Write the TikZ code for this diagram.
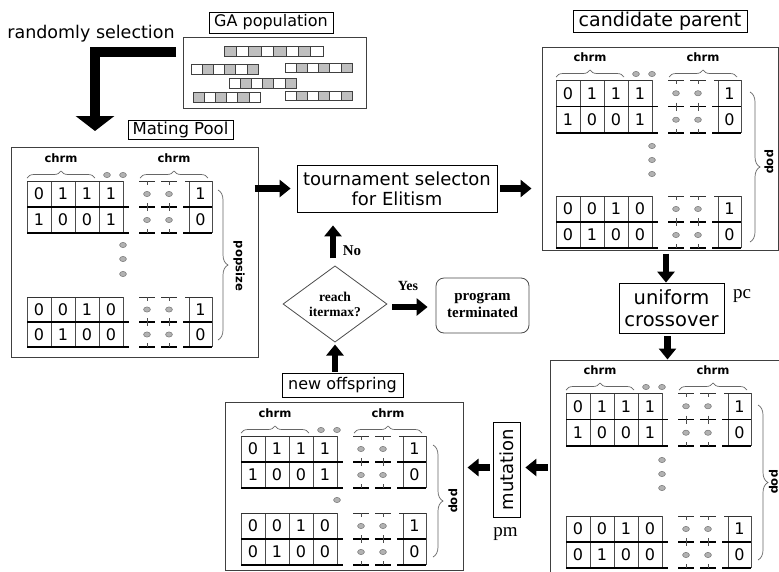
\documentclass[tikz,border=0pt]{standalone}
\usepackage{fontspec}
\setmainfont{Liberation Serif}
\newfontfamily\dvs{DejaVu Sans}
\usetikzlibrary{arrows.meta,decorations.pathreplacing,shapes.geometric,calc}
\newcommand\fs[2]{\fontsize{#1}{#2}\selectfont}
\colorlet{sg}{black!25}
\tikzset{
 lbox/.style={draw=black, line width=0.8pt, inner sep=0pt, align=center},
 bigbox/.style={draw=black!75, line width=1pt, inner sep=0pt},
 dig/.style={font=\dvs\fs{16}{16}, inner sep=0pt},
 chrm/.style={font=\dvs\bfseries\fs{11.6}{12}, inner sep=0pt},
 poplab/.style={font=\dvs\bfseries\fs{11.6}{12}, inner sep=0pt, rotate=-90},
 vl/.style={draw=black!70, line width=0.8pt},
 hl/.style={draw=black!80, line width=1pt},
 hk/.style={draw=black, line width=1.6pt},
 brc/.style={draw=black!60, line width=0.7pt, decorate, decoration={brace, amplitude=7pt}},
 bigbrc/.style={draw=black!60, line width=0.7pt, decorate, decoration={brace, amplitude=10pt}},
 dotc/.style={fill=black!30, draw=black!55, line width=0.5pt},
 bar/.style={line width=6.5pt, -{Triangle[width=17pt,length=11pt]}},
 sq/.style={draw=black!75, line width=0.9pt},
}
% one chromosome strip of the GA population
\newcommand\gstrip[4]{%
 \foreach \c [count=\k] in {#4} \draw[sq, fill=\c] ({#1+(\k-1)*#3},#2) rectangle ++(#3,9.5);}
% header: chrm labels, braces, dots
\newcommand\ghead[3]{%
\begin{scope}[shift={(#2,#3)}]
 \node[chrm] (#1c1) at (34,-23) {chrm};
 \node[chrm] (#1c2) at (147,-23) {chrm};
 \draw[brc] (0,-3) -- (68,-3);
 \draw[brc] (113,-3) -- (181,-3);
 \draw[dotc] (80,-6) ellipse [x radius=3.4, y radius=2.6];
 \draw[dotc] (96,-6) ellipse [x radius=3.4, y radius=2.6];
\end{scope}}
% two rows of genes
\newcommand\gpair[8]{%
\begin{scope}[shift={(#2,#3)}]
 \foreach \x in {0,24,48,72,96,162,185} \draw[vl] (\x,0) -- (\x,2*#4);
 \draw[hl] (0,0) -- (96,0) (158,0) -- (185,0);
 \draw[hk] (0,#4) -- (102,#4) (156,#4) -- (185,#4) (0,2*#4) -- (102,2*#4) (156,2*#4) -- (185,2*#4);
 \foreach \c in {120,142} {
   \draw[hl] (\c-8,0) -- (\c+8,0);
   \draw[hk] (\c-8,#4) -- (\c+8,#4) (\c-8,2*#4) -- (\c+8,2*#4);
   \draw[vl] (\c,0) -- (\c,4) (\c,#4-4) -- (\c,#4+4) (\c,2*#4-4) -- (\c,2*#4);
   \draw[dotc] (\c,#4/2) ellipse [x radius=3.4, y radius=2.6];
   \draw[dotc] (\c,1.5*#4) ellipse [x radius=3.4, y radius=2.6];
 }
 \foreach \d [count=\i] in {#5} \node[dig] (#1a\i) at (\i*24-12,#4/2) {\d};
 \node[dig] (#1a5) at (173.5,#4/2) {#6};
 \foreach \d [count=\i] in {#7} \node[dig] (#1b\i) at (\i*24-12,1.5*#4) {\d};
 \node[dig] (#1b5) at (173.5,1.5*#4) {#8};
\end{scope}}
\newcommand\vdot[2]{\draw[dotc] (#1,#2) ellipse [x radius=3.4, y radius=2.6];}

\begin{document}
\begin{tikzpicture}[x=1pt,y=-1pt]
\useasboundingbox (0,0) rectangle (779,571);
\fill[white] (0,0) rectangle (779,571);
\begin{scope}
\clip (0,0) rectangle (779,571);

% ---------- GA population ----------
\node[font=\dvs\fs{17.5}{18}, inner sep=0pt] (rs) at (91,34) {randomly selection};
\node[lbox, font=\dvs\fs{16}{16}, minimum width=124pt, minimum height=21pt] (gal) at (271,22.5) {GA population};
\node[bigbox, minimum width=183pt, minimum height=71pt] (gap) at (274.5,72.5) {};
\gstrip{224}{46.5}{12.4}{sg,white,sg,white,sg,white,sg,white}
\gstrip{191}{64.5}{11.2}{white,sg,white,sg,white,sg}
\gstrip{285}{63}{11.2}{white,sg,white,sg,white,sg}
\gstrip{229}{78.5}{11.2}{white,sg,white,sg,white,sg}
\gstrip{193}{92.5}{11.2}{sg,white,sg,white,sg,white}
\gstrip{285}{91}{11.2}{white,sg,white,sg,white,sg}
\coordinate (ls) at (176,52);
\coordinate (le) at (95,131);
\draw[line width=10pt, miter limit=10, -{Triangle[width=38pt,length=15pt]}] (ls) -| (le);

% ---------- Mating pool ----------
\node[lbox, font=\dvs\fs{16.5}{17}, minimum width=105pt, minimum height=19pt] (mpl) at (180.5,129.5) {Mating Pool};
\node[bigbox, minimum width=247pt, minimum height=210pt] (mp) at (134.5,252) {};
\ghead{A}{27}{181}
\gpair{Ap}{27}{181}{26}{0,1,1,1}{1}{1,0,0,1}{0}
\gpair{Aq}{27}{297}{25}{0,0,1,0}{1}{0,1,0,0}{0}
\vdot{123}{245}\vdot{123}{259}\vdot{123}{274}
\draw[bigbrc] (218,190) -- (218,340);
\node[poplab] (Apop) at (239,266) {popsize};

% ---------- tournament ----------
\node[lbox, font=\dvs\fs{18}{20}, minimum width=200pt, minimum height=47pt] (ts) at (397,188.5) {tournament selecton\\for Elitism};

% ---------- candidate parent ----------
\node[lbox, font=\dvs\fs{19}{19}, minimum width=174pt, minimum height=22pt] (cpl) at (660,21) {candidate parent};
\node[bigbox, minimum width=236pt, minimum height=203pt] (cp) at (660,148.5) {};
\ghead{B}{556}{80}
\gpair{Bp}{556}{80}{26.5}{0,1,1,1}{1}{1,0,0,1}{0}
\gpair{Bq}{556}{196}{26}{0,0,1,0}{1}{0,1,0,0}{0}
\vdot{652}{146}\vdot{652}{160}\vdot{652}{174}
\draw[bigbrc] (750,92) -- (750,242);
\node[poplab] (Bpop) at (769,162) {pop};

% ---------- uniform crossover ----------
\node[lbox, font=\dvs\fs{19.5}{22}, minimum width=105pt, minimum height=50pt] (uc) at (671.5,308) {uniform\\crossover};
\node[font=\fs{19}{19}, inner sep=0pt] (pc) at (742,296) {pc};
\node[bigbox, minimum width=247pt, minimum height=212pt] (cr) at (673.5,466) {};
\ghead{C}{566}{393}
\gpair{Cp}{566}{393}{26.5}{0,1,1,1}{1}{1,0,0,1}{0}
\gpair{Cq}{566}{516}{26}{0,0,1,0}{1}{0,1,0,0}{0}
\vdot{662}{460}\vdot{662}{474}\vdot{662}{488}
\draw[bigbrc] (758,405) -- (758,560);
\node[poplab] (Cpop) at (773.5,482) {pop};

% ---------- mutation / new offspring ----------
\node[lbox, font=\dvs\fs{18}{18}, minimum width=95pt, minimum height=27pt, rotate=90] (mu) at (506.5,469.5) {mutation};
\node[font=\fs{19}{19}, inner sep=0pt] (pm) at (505.5,534) {pm};
\node[lbox, font=\dvs\fs{16}{16}, minimum width=121pt, minimum height=24pt] (nol) at (342.5,385) {new offspring};
\node[bigbox, minimum width=238pt, minimum height=168pt] (no) at (344,486) {};
\ghead{D}{241}{436}
\gpair{Dp}{241}{436}{26}{0,1,1,1}{1}{1,0,0,1}{0}
\gpair{Dq}{241}{513}{26}{0,0,1,0}{1}{0,1,0,0}{0}
\vdot{337}{500}
\draw[bigbrc] (433,445) -- (433,557);
\node[poplab] (Dpop) at (453,501) {pop};

% ---------- decision ----------
\node[diamond, draw=black!70, line width=0.8pt, minimum width=104pt, minimum height=68pt, inner sep=0pt, align=center, font=\bfseries\fs{13.5}{15}] (dm) at (335,304) {reach\\itermax?};
\node[draw=black!70, line width=0.8pt, rounded corners=8pt, minimum width=93pt, minimum height=55pt, inner sep=0pt, align=center, font=\bfseries\fs{15}{17}] (pt) at (482.5,305.5) {program\\terminated};
\node[font=\bfseries\fs{15}{15}, inner sep=0pt] (nolab) at (352,251) {No};
\node[font=\bfseries\fs{14}{14}, inner sep=0pt] (yeslab) at (408,286) {Yes};

% ---------- connectors ----------
\draw[bar] ($(mp.east |- ts.west)+(-4,0)$) -- ($(ts.west)+(-6,0)$);
\draw[bar] ($(ts.east)+(3,0)$) -- ($(cp.west |- ts.east)+(-10,0)$);
\draw[bar] ($(cp.south)+(6,3)$) coordinate (t1) -- (t1 |- uc.north);
\draw[bar] ($(uc.south)+(-4,3)$) coordinate (t2) -- (t2 |- cr.north);
\draw[bar] ($(cr.west |- mu.center)+(-2,-2)$) coordinate (t3) -- ($(mu.south |- t3)+(5,0)$);
\draw[bar] ($(mu.north |- t3)+(-3,0)$) -- ($(no.east |- t3)+(4,0)$);
\draw[bar] ($(dm.south |- nol.north)+(0,-1)$) -- ($(dm.south)+(0,2)$);
\draw[bar] ($(dm.north)+(-2,-7)$) -- ($(dm.north |- ts.south)+(-2,13)$);
\draw[bar] ($(dm.east)+(5,3)$) -- ($(pt.west |- dm.east)+(-8,3)$);
\end{scope}
\end{tikzpicture}
\end{document}
